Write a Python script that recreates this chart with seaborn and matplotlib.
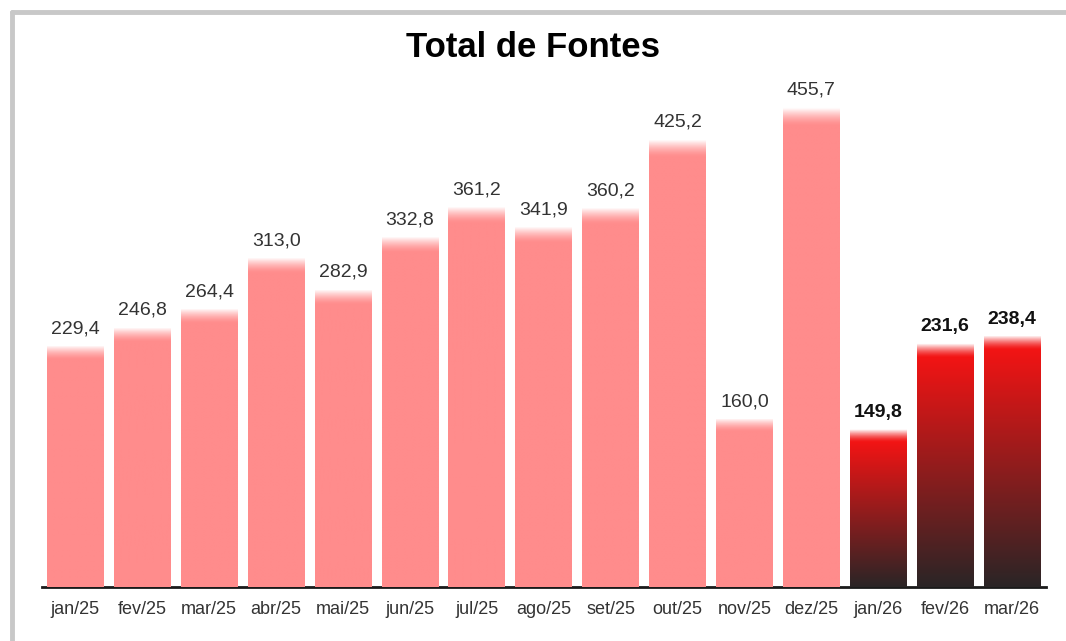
import numpy as np
import pandas as pd
import matplotlib
matplotlib.use("Agg")
import matplotlib.pyplot as plt
import seaborn as sns
from matplotlib.colors import to_rgb
from matplotlib.lines import Line2D

months = ["jan/25", "fev/25", "mar/25", "abr/25", "mai/25", "jun/25", "jul/25",
          "ago/25", "set/25", "out/25", "nov/25", "dez/25", "jan/26", "fev/26", "mar/26"]
values = [229.4, 246.8, 264.4, 313.0, 282.9, 332.8, 361.2, 341.9, 360.2, 425.2,
          160.0, 455.7, 149.8, 231.6, 238.4]
highlight = [False] * 12 + [True] * 3
title = "Total de Fontes"

pink = "#ff8c8c"
red_top = "#f21414"
dark_bottom = "#2a2526"

sns.set_theme(style="white")
plt.rcParams['font.family'] = ['Liberation Sans', 'DejaVu Sans']

df = pd.DataFrame({"mes": months, "valor": values, "hl": highlight})

fig = plt.figure(figsize=(10.66, 6.41), dpi=100)
ax = fig.add_axes([0.0394, 0.084, 0.9414, 0.81])

sns.barplot(data=df, x="mes", y="valor", color=pink, width=0.85, ax=ax,
            saturation=1, edgecolor="none")

ax.set_ylim(0, 493)
ax.set_xlim(-0.5, len(months) - 0.5)
ax.set_xlabel("")
ax.set_ylabel("")
ax.set_yticks([])
for s in ["top", "right", "left"]:
    ax.spines[s].set_visible(False)
ax.spines["bottom"].set_color("#1a1a1a")
ax.spines["bottom"].set_linewidth(2)
ax.tick_params(axis="x", length=0, pad=10, labelsize=13, labelcolor="#333333")

# gradient overlays clipped to bars
for patch, v, hl in zip(ax.patches, values, highlight):
    x0 = patch.get_x()
    w = patch.get_width()
    h = patch.get_height()
    n = 256
    t = np.linspace(0, 1, n)  # 0 bottom, 1 top
    fade_frac = (10 + 0.015 * h) / h
    if hl:
        c0 = np.array(to_rgb(dark_bottom))
        c1 = np.array(to_rgb(red_top))
        tt = np.clip(t / (1 - fade_frac), 0, 1)[:, None]
        base = c0 * (1 - tt) + c1 * tt
    else:
        base = np.tile(np.array(to_rgb(pink)), (n, 1))
    f = np.clip((t - (1 - fade_frac)) / fade_frac, 0, 1)[:, None]
    f = f ** 1.5
    rgb = base * (1 - f) + np.ones(3) * f
    img = rgb[:, None, :]
    im = ax.imshow(img, extent=[x0, x0 + w, 0, h], origin="lower",
                   aspect="auto", interpolation="bilinear", zorder=3)
    im.set_clip_path(patch)

for i, (v, hl) in enumerate(zip(values, highlight)):
    label = f"{v:.1f}".replace(".", ",")
    ax.text(i, v + 8, label, ha="center", va="bottom", fontsize=14,
            color="#111111" if hl else "#333333",
            fontweight="bold" if hl else "normal", zorder=4)

fig.text(0.5, 0.926, title, ha="center", va="center", fontsize=25,
         fontweight="bold", color="#000000")

# frame (top and left borders)
fig.add_artist(Line2D([0.0115, 1.0], [0.9815, 0.9815], transform=fig.transFigure,
                      color="#c8c8c8", linewidth=3.5))
fig.add_artist(Line2D([0.0115, 0.0115], [0.0, 0.9815], transform=fig.transFigure,
                      color="#c8c8c8", linewidth=3.5))

fig.savefig("out.png", dpi=100)
